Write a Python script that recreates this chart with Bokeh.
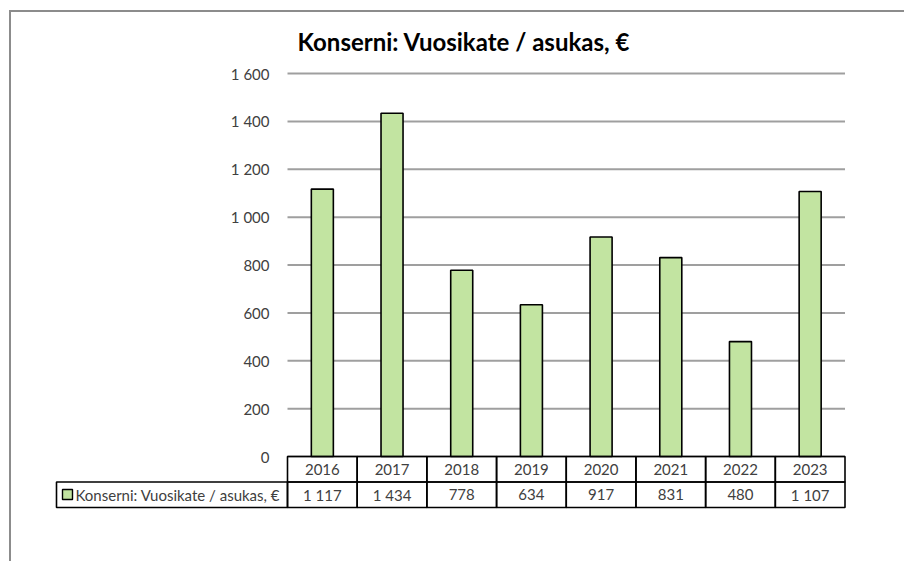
from bokeh.plotting import figure
from bokeh.models import Range1d, LinearAxis, FixedTicker
from bokeh.embed import file_html
from bokeh.resources import INLINE
from bokeh.core.properties import value

# ---------------- data ----------------
YEARS = ["2016", "2017", "2018", "2019", "2020", "2021", "2022", "2023"]
VALUES = [1117, 1434, 778, 634, 917, 831, 480, 1107]
Y_TICKS = [0, 200, 400, 600, 800, 1000, 1200, 1400, 1600]
SERIES_NAME = "Konserni: Vuosikate / asukas, €"
TITLE = "Konserni: Vuosikate / asukas, €"


def fmt(v):
    return f"{v:,}".replace(",", "\u00a0")


# ---------------- layout (page pixels) ----------------
BORDER_X, BORDER_Y, BW = 9, 10, 2
OX, OY = BORDER_X + BW, BORDER_Y + BW          # canvas origin on the page
PAGE_W, PAGE_H = 906, 562
PLOT_L, PLOT_R = 287, 844.5
PLOT_T, PLOT_B = 72, 455
ROW1_B, ROW2_B = 480.5, 506
LEG_L = 56
FRAME_L, FRAME_R, FRAME_T, FRAME_B = 52, 848, 66, 510

PX_X = (PLOT_R - PLOT_L) / len(YEARS)
PX_Y = (PLOT_B - PLOT_T) / Y_TICKS[-1]


def xd(px):
    return (px - PLOT_L) / PX_X


def yd(py):
    return (PLOT_B - py) / PX_Y


FONT = "Lato"
TXT = "#404040"
GREEN = "#c2e4a1"

p = figure(
    frame_width=FRAME_R - FRAME_L, frame_height=FRAME_B - FRAME_T,
    x_range=Range1d(xd(FRAME_L), xd(FRAME_R)),
    y_range=Range1d(yd(FRAME_B), yd(FRAME_T)),
    x_axis_location=None, y_axis_location=None,
    toolbar_location=None, output_backend="svg",
    min_border_left=FRAME_L - OX, min_border_right=PAGE_W - FRAME_R,
    min_border_top=FRAME_T - OY, min_border_bottom=PAGE_H - FRAME_B,
    outline_line_color=None, background_fill_color="white",
    border_fill_color="white",
)
p.grid.visible = False
p.styles = {
    "margin-left": f"{OX}px",
    "margin-top": f"{OY}px",
    "box-shadow": f"-{BW}px -{BW}px 0 0 #8c8c8c",
}
p.stylesheets = [".bk-Toolbar, .bk-toolbar { display: none !important; }"]

# title
p.title.text = TITLE
p.title.align = "left"
p.title.offset = 297 - FRAME_L
p.title.standoff = 24
p.title.text_font = FONT
p.title.text_font_style = "bold"
p.title.text_font_size = "24px"
p.title.text_color = "black"

# y axis placed at x = 0 (left edge of plot area)
yax = LinearAxis(fixed_location=0)
yax.ticker = FixedTicker(ticks=Y_TICKS)
yax.major_label_overrides = {t: fmt(t) for t in Y_TICKS}
yax.axis_line_color = None
yax.major_tick_line_color = None
yax.minor_tick_line_color = None
yax.major_label_standoff = 12
yax.major_label_text_font = FONT
yax.major_label_text_font_size = "15px"
yax.major_label_text_color = TXT
p.add_layout(yax, "left")

n = len(YEARS)
centers = [i + 0.5 for i in range(n)]

# gridlines
p.segment(x0=[0] * len(Y_TICKS), x1=[n] * len(Y_TICKS), y0=Y_TICKS, y1=Y_TICKS,
          line_color="#9f9f9f", line_width=2)

# bars
p.vbar(x=centers, top=VALUES, bottom=0, width=0.316, fill_color=GREEN,
       line_color="black", line_width=1.6)

# data table
p.quad(left=list(range(n)), right=list(range(1, n + 1)), top=0, bottom=yd(ROW1_B),
       fill_color=None, line_color="black", line_width=1.6)
p.quad(left=[xd(LEG_L)] + list(range(n)), right=[0] + list(range(1, n + 1)),
       top=yd(ROW1_B), bottom=yd(ROW2_B),
       fill_color=None, line_color="black", line_width=1.6)
row1_mid = (yd(PLOT_B) + yd(ROW1_B)) / 2
row2_mid = (yd(ROW1_B) + yd(ROW2_B)) / 2
p.text(x=centers, y=[row1_mid] * n, text=YEARS, text_align="center",
       text_baseline="middle", text_font=value(FONT), text_font_size="15px",
       text_color=TXT)
p.text(x=centers, y=[row2_mid] * n, text=[fmt(v) for v in VALUES],
       text_align="center", text_baseline="middle", text_font=value(FONT),
       text_font_size="15px", text_color=TXT)

# legend key in table
p.quad(left=[xd(62)], right=[xd(72)], top=[yd(488)], bottom=[yd(498)],
       fill_color=GREEN, line_color="black", line_width=1.4)
p.text(x=[xd(75)], y=[row2_mid], text=[SERIES_NAME], text_align="left",
       text_baseline="middle", text_font=value(FONT), text_font_size="15px",
       text_color=TXT)

open("out.html", "w").write(file_html(p, INLINE))
